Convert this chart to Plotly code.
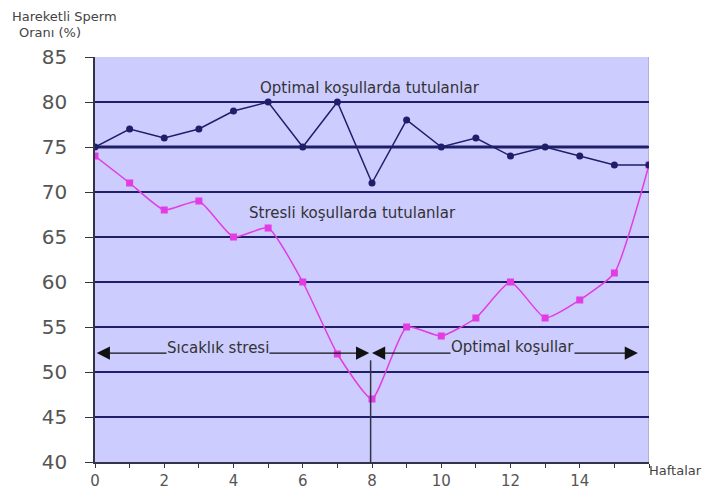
import plotly.graph_objects as go

weeks = list(range(17))
optimal = [75, 77, 76, 77, 79, 80, 75, 80, 71, 78, 75, 76, 74, 75, 74, 73, 73]
stressed = [74, 71, 68, 69, 65, 66, 60, 52, 47, 55, 54, 56, 60, 56, 58, 61, 73]
y_ticks = [40, 45, 50, 55, 60, 65, 70, 75, 80, 85]
x_tickvals = list(range(17))
x_ticktext = [str(v) if v % 2 == 0 and v < 16 else "" for v in x_tickvals]

navy = "#1e1e6a"
pink = "#e23ce2"
bg = "#ccccff"
FONT = "DejaVu Sans, Liberation Sans, Arial"

fig = go.Figure()
fig.add_trace(go.Scatter(x=weeks, y=stressed, mode="lines+markers",
                         line=dict(color=pink, width=1.5, shape="spline", smoothing=0.5),
                         marker=dict(symbol="square", size=7, color=pink),
                         showlegend=False))
fig.add_trace(go.Scatter(x=weeks, y=optimal, mode="lines+markers",
                         line=dict(color=navy, width=1.5),
                         marker=dict(symbol="circle", size=7, color=navy),
                         showlegend=False))

# thick line at 75
fig.add_shape(type="line", x0=0, x1=16, y0=75, y1=75, xref="x", yref="y",
              line=dict(color=navy, width=3), layer="below")
# faint right border of plot area
fig.add_shape(type="line", x0=16, x1=16, y0=40, y1=85, xref="x", yref="y",
              line=dict(color="#a8a8c8", width=1.5), layer="below")
# vertical line at week 8
fig.add_shape(type="line", x0=7.96, x1=7.96, y0=40, y1=51.3, xref="x", yref="y",
              line=dict(color="#333344", width=1.5))

arrow_y = 52.1
for x0, x1 in [(3.9, 0.05), (3.9, 7.92), (12.0, 8.0), (12.0, 15.68)]:
    fig.add_annotation(x=x1, y=arrow_y, ax=x0, ay=arrow_y, xref="x", yref="y",
                       axref="x", ayref="y", showarrow=True, arrowhead=2,
                       arrowsize=2.2, arrowwidth=1.2, arrowcolor="#111111", text="")

label_font = dict(family=FONT, size=15, color="#333333")
fig.add_annotation(x=3.55, y=52.65, text="Sıcaklık stresi", showarrow=False,
                   xref="x", yref="y", font=label_font, bgcolor=bg, borderpad=0)
fig.add_annotation(x=12.07, y=52.75, text="Optimal koşullar", showarrow=False,
                   xref="x", yref="y", font=label_font, bgcolor=bg, borderpad=0)
fig.add_annotation(x=7.94, y=81.55, text="Optimal koşullarda tutulanlar", showarrow=False,
                   xref="x", yref="y", font=label_font)
fig.add_annotation(x=7.43, y=67.7, text="Stresli koşullarda tutulanlar", showarrow=False,
                   xref="x", yref="y", font=label_font)

fig.update_layout(
    width=711, height=491,
    margin=dict(l=95, r=62, t=57, b=29, autoexpand=False),
    plot_bgcolor=bg, paper_bgcolor="white",
    font=dict(family=FONT, color="#555555"),
    xaxis=dict(range=[0, 16], tickvals=x_tickvals, ticktext=x_ticktext,
               automargin=False,
               ticks="outside", ticklen=4, tickcolor="#333344",
               showgrid=False, zeroline=False, showline=True, linecolor="#333344", linewidth=1.5,
               tickfont=dict(family=FONT, size=15, color="#555555")),
    yaxis=dict(range=[40, 85], tickvals=y_ticks, ticks="outside", ticklen=8,
               automargin=False, ticklabelstandoff=14,
               tickcolor="#333344", showgrid=True, gridcolor=navy, gridwidth=1.6,
               zeroline=False, showline=True, linecolor="#333344", linewidth=1.5,
               tickfont=dict(family=FONT, size=20, color="#555555")),
)

small = dict(family=FONT, size=13, color="#444444")
fig.add_annotation(x=-95/554 + 10/554, y=1 + (57 - 16) / 405, xref="paper", yref="paper",
                   text="Hareketli Sperm", showarrow=False, xanchor="left", yanchor="middle",
                   font=small)
fig.add_annotation(x=-95/554 + 17/554, y=1 + (57 - 33) / 405, xref="paper", yref="paper",
                   text="Oranı (%)", showarrow=False, xanchor="left", yanchor="middle",
                   font=small)
fig.add_annotation(x=1 + (647 - 649)/554, y=-(471 - 462) / 405, xref="paper", yref="paper",
                   text="Haftalar", showarrow=False, xanchor="left", yanchor="middle",
                   font=small)

fig.write_html("out.html")
